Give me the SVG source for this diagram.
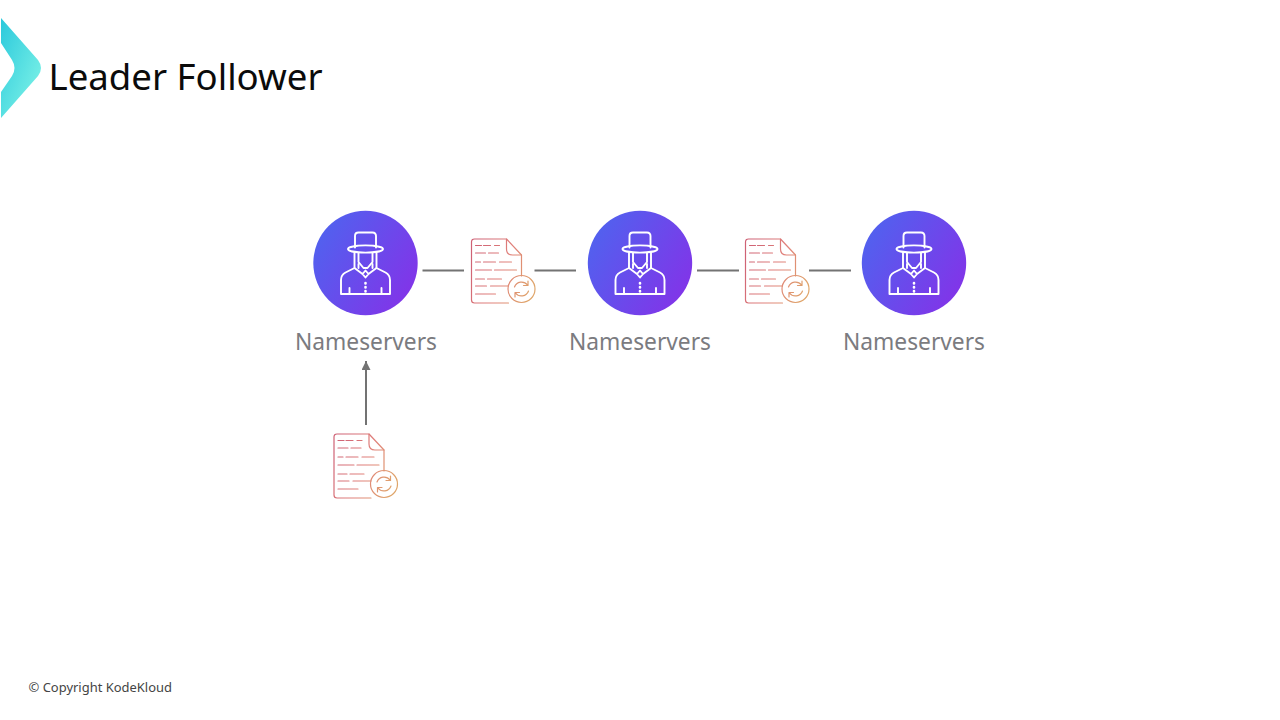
<svg xmlns="http://www.w3.org/2000/svg" width="1280" height="720" viewBox="0 0 1280 720">
<style>
text{font-family:"Noto Sans","Open Sans",sans-serif}
.title{font-size:36px;fill:#0b0b0b}
.lbl{font-size:23.5px;fill:#7b7b80;text-anchor:middle}
.foot{font-size:12.5px;fill:#444}
.line{stroke:#737373;stroke-width:2;fill:none}
.p{fill:none;stroke:#fff;stroke-width:1.9;stroke-linejoin:round;stroke-linecap:round}
.d{fill:none;stroke:url(#docg);stroke-width:1.200;stroke-linejoin:round;stroke-linecap:round}
</style>
<defs>
<linearGradient id="logo" x1="0" y1="0" x2="1" y2="1"><stop offset="0" stop-color="#2bc9dc"/><stop offset="1" stop-color="#86f7e8"/></linearGradient>
<linearGradient id="circ" x1="0" y1="0.2" x2="1" y2="0.8"><stop offset="0" stop-color="#4f63ef"/><stop offset="1" stop-color="#8432e8"/></linearGradient>
<linearGradient id="docg" gradientUnits="userSpaceOnUse" x1="0" y1="20" x2="65" y2="45"><stop offset="0" stop-color="#cf6275"/><stop offset="0.5" stop-color="#e0807a"/><stop offset="1" stop-color="#dfa56a"/></linearGradient>
<marker id="arr" markerWidth="10" markerHeight="11" refX="9" refY="4.500" orient="auto" markerUnits="userSpaceOnUse"><path d="M0 0L9 4.500L0 9Z" fill="#737373"/></marker>
<g id="person">
<circle cx="0" cy="0" r="52.2" fill="url(#circ)"/>
<path class="p" d="M-10.500 -15.500V-27Q-10.500 -30.500 -7 -30.500H7Q10.500 -30.500 10.500 -27V-15.500"/>
<ellipse class="p" cx="0" cy="-14" rx="17.500" ry="3.600"/>
<path class="p" d="M-7 -10V-1L-2 5H2L7 -1V-10"/>
<path class="p" d="M-11 -10V5L-20 9.500Q-24.500 12 -24.500 17V31H24.500V17Q24.500 12 20 9.500L11 5V-10"/>
<path class="p" d="M-11 5L-3 11L0 7.500L3 11L11 5M-7 1L-7 5M7 1L7 5M-3 11L0 14.500L3 11"/>
<path class="p" d="M-16 25V31M16 25V31"/>
<path class="p" d="M0 20V20.500M0 24V24.500M0 28V28.500" style="stroke-width:2.600"/>
</g>
<g id="doc">
<path class="d" d="M51 38V17L36 1H4Q1 1 1 4V62Q1 65 4 65H38"/>
<path class="d" d="M36 1V11Q36 17 42 17H51"/>
<path class="d" d="M5 7.500H11M13 7.500H20M24 7.500H29M5 15H15M18 15H28M5 24H10M13 24H25M29 24H41M5 32H21M24 32H46M5 41H14M17 41H31M5 48H16M20 48H38M5 56H25"/>
<circle class="d" cx="51" cy="51" r="13.500"/>
<path class="d" d="M44 49A7.500 7.500 0 0 1 57 47M58 53A7.500 7.500 0 0 1 45 55M57.500 43V47.500H53M44.500 59V54.500H49"/>
</g>
</defs>
<g id="logo-mark"><path d="M1 18L38 60Q44 68 38 76L1 118V92L12 76Q17 68 12 60L1 43Z" fill="url(#logo)"/></g>
<g id="title"><text class="title" x="48.500" y="90" textLength="274" lengthAdjust="spacingAndGlyphs">Leader Follower</text></g>
<g id="connectors">
<path class="line" d="M422.500 270.500H464"/>
<path class="line" d="M534.500 270.500H576"/>
<path class="line" d="M697 270.500H739"/>
<path class="line" d="M809 270.500H851"/>
<path class="line" d="M366 425V361" marker-end="url(#arr)"/>
</g>
<g id="node-1"><use href="#person" x="365.500" y="263"/><text class="lbl" x="366" y="350" textLength="142" lengthAdjust="spacingAndGlyphs">Nameservers</text></g>
<g id="node-2"><use href="#person" x="640" y="263"/><text class="lbl" x="640" y="350" textLength="142" lengthAdjust="spacingAndGlyphs">Nameservers</text></g>
<g id="node-3"><use href="#person" x="914" y="263"/><text class="lbl" x="914" y="350" textLength="142" lengthAdjust="spacingAndGlyphs">Nameservers</text></g>
<g id="doc-1"><use href="#doc" x="470.500" y="238"/></g>
<g id="doc-2"><use href="#doc" x="744.500" y="238"/></g>
<g id="doc-3"><use href="#doc" x="333" y="433"/></g>
<g id="footer"><text class="foot" x="28.500" y="692" textLength="143.500" lengthAdjust="spacingAndGlyphs">© Copyright KodeKloud</text></g>
</svg>
